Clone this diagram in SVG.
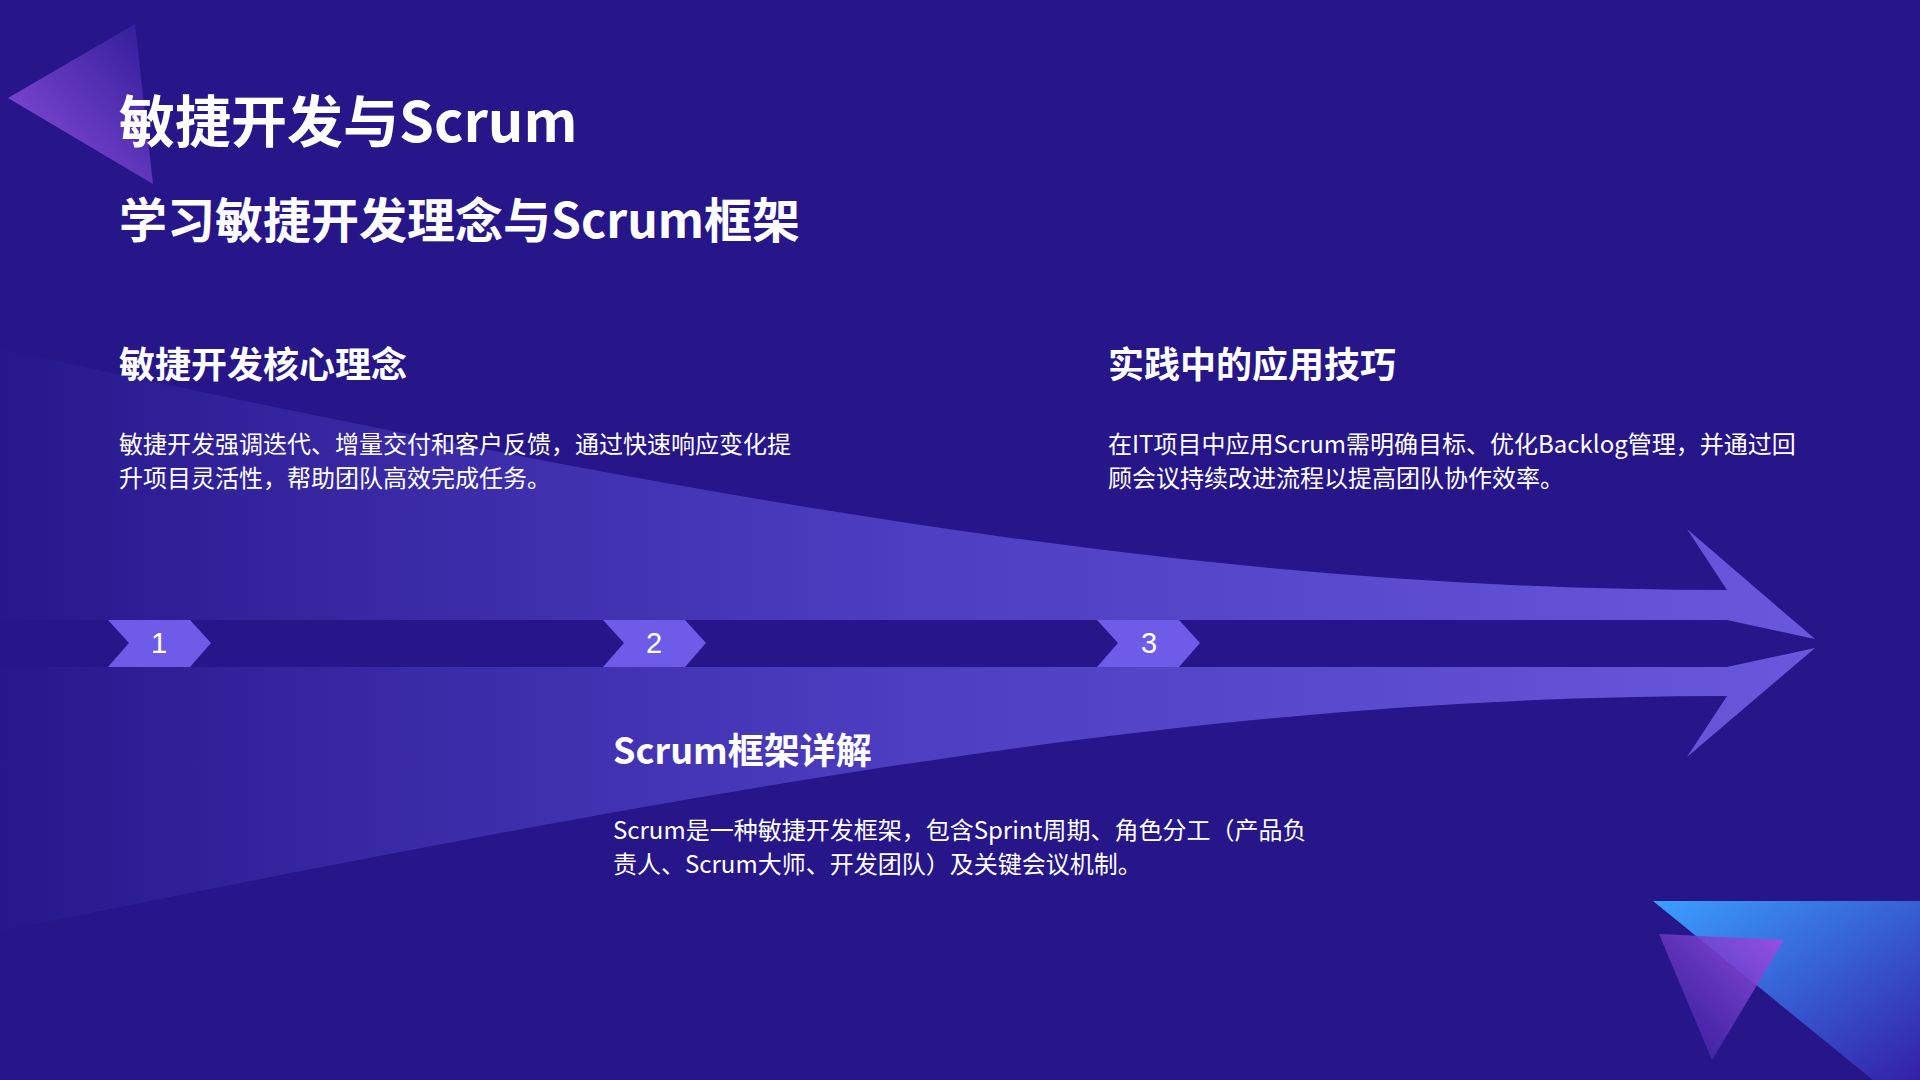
<svg xmlns="http://www.w3.org/2000/svg" width="1920" height="1080" viewBox="0 0 1920 1080">
<defs>
<linearGradient id="ag" x1="0" y1="0" x2="1815" y2="0" gradientUnits="userSpaceOnUse">
<stop offset="0" stop-color="#6152dc" stop-opacity="0.02"/>
<stop offset="0.5" stop-color="#5a4bd4" stop-opacity="0.75"/>
<stop offset="1" stop-color="#6a58dc"/>
</linearGradient>
<linearGradient id="tl" x1="0" y1="1" x2="1" y2="0">
<stop offset="0" stop-color="#9050e0"/>
<stop offset="1" stop-color="#2e1c96"/>
</linearGradient>
<linearGradient id="br" x1="0" y1="0" x2="1" y2="1">
<stop offset="0" stop-color="#3aa0ff"/>
<stop offset="1" stop-color="#3420a8"/>
</linearGradient>
<linearGradient id="bp" x1="1" y1="0" x2="0" y2="1">
<stop offset="0" stop-color="#9a50e6"/>
<stop offset="1" stop-color="#3a22a0" stop-opacity="0.6"/>
</linearGradient>
<style>
.t{font-family:"Noto Sans CJK SC","Noto Sans",sans-serif;fill:#fff}
.h{font-weight:700;font-size:36px}
.b{font-size:24px}
.c{fill:#6e5ce8}
.n{font-family:"Liberation Sans","Noto Sans",sans-serif;font-size:29px;fill:#fff;text-anchor:middle}
</style>
</defs>
<rect width="1920" height="1080" fill="#26168a"/>
<polygon points="8,98 135,24 153,184" fill="url(#tl)"/>
<polygon points="1653,901 1920,901 1920,1080 1873,1080" fill="url(#br)"/>
<polygon points="1659,934 1784,940 1712,1060" fill="url(#bp)"/>
<g id="connectors">
<path d="M0,349 C700,500 1200,590 1727,590 L1687,529 L1815,639 L1727,620 L0,620 Z" fill="url(#ag)"/>
<path d="M0,931 C700,790 1200,696 1727,696 L1687,757 L1815,648 L1727,667 L0,667 Z" fill="url(#ag)"/>
</g>
<g id="title">
<text class="t" x="119" y="142" font-size="56" font-weight="700">敏捷开发与Scrum</text>
<text class="t" x="119" y="238" font-size="48" font-weight="700">学习敏捷开发理念与Scrum框架</text>
</g>
<g id="step1">
<polygon class="c" points="108,620 190,620 211,643 190,667 108,667 129,643"/>
<text class="n" x="159" y="653">1</text>
<text class="t h" x="119" y="378">敏捷开发核心理念</text>
<text class="t b" x="119" y="453">敏捷开发强调迭代、增量交付和客户反馈，通过快速响应变化提</text>
<text class="t b" x="119" y="487">升项目灵活性，帮助团队高效完成任务。</text>
</g>
<g id="step2">
<polygon class="c" points="603,620 685,620 706,643 685,667 603,667 624,643"/>
<text class="n" x="654" y="653">2</text>
<text class="t h" x="613" y="764">Scrum框架详解</text>
<text class="t b" x="613" y="839">Scrum是一种敏捷开发框架，包含Sprint周期、角色分工（产品负</text>
<text class="t b" x="613" y="873">责人、Scrum大师、开发团队）及关键会议机制。</text>
</g>
<g id="step3">
<polygon class="c" points="1097,620 1179,620 1200,643 1179,667 1097,667 1118,643"/>
<text class="n" x="1149" y="653">3</text>
<text class="t h" x="1108" y="378">实践中的应用技巧</text>
<text class="t b" x="1108" y="453">在IT项目中应用Scrum需明确目标、优化Backlog管理，并通过回</text>
<text class="t b" x="1108" y="487">顾会议持续改进流程以提高团队协作效率。</text>
</g>
</svg>
